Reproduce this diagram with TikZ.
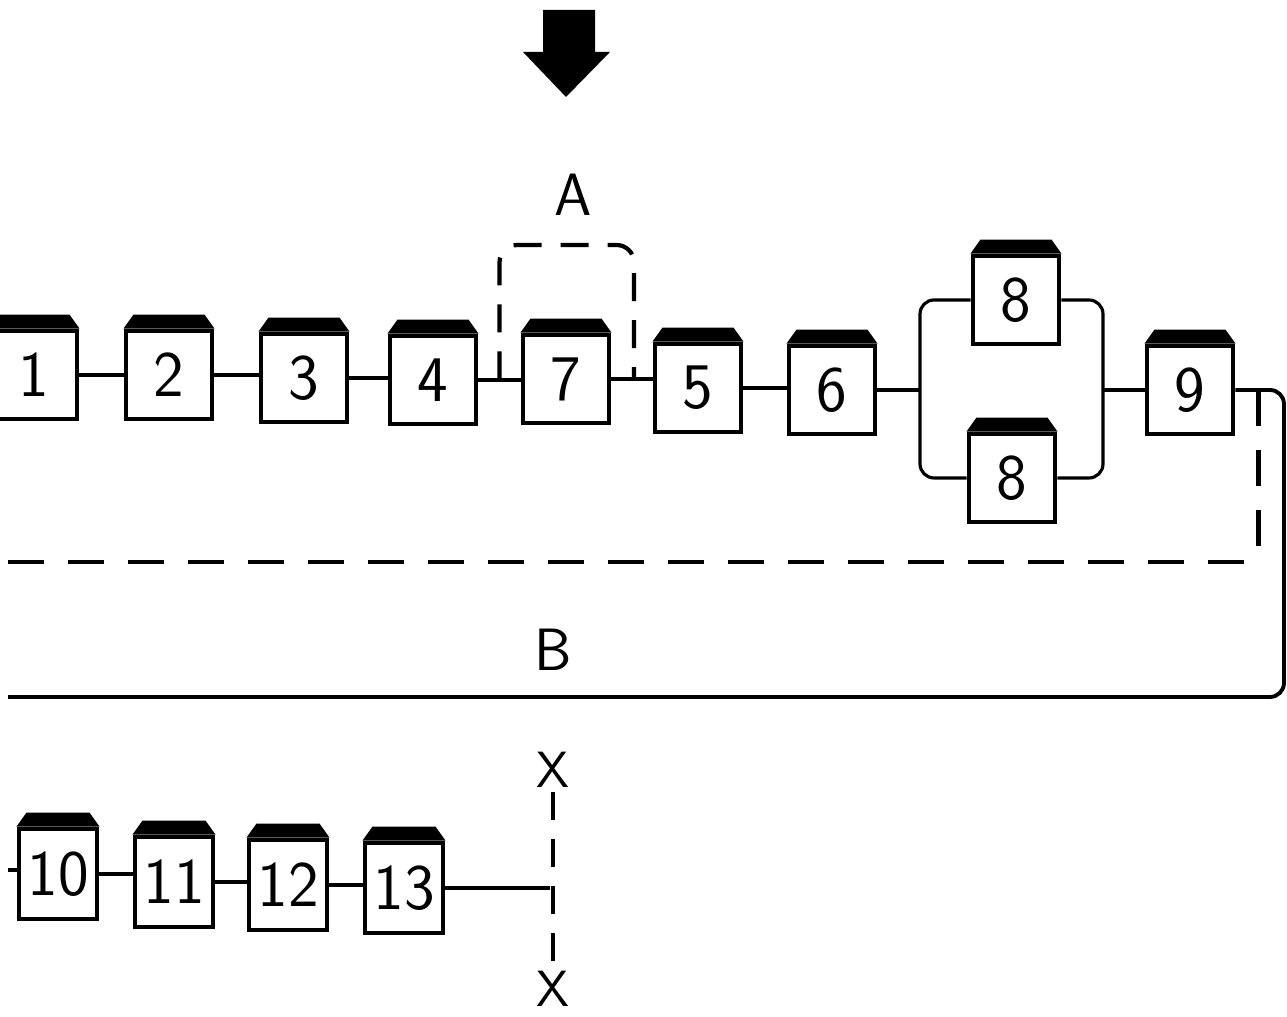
\documentclass[tikz,border=0pt]{standalone}
\usepackage{tikz}
\usetikzlibrary{calc}
\usetikzlibrary{positioning}

\tikzset{
  unit/.style={draw, line width=1.4pt, minimum width=0.86cm, minimum height=0.88cm,
               inner sep=0pt, font=\sffamily\fontsize{18.5}{20}\selectfont},
  smallunit/.style={unit, minimum width=0.78cm, minimum height=0.90cm},
  wire/.style={line width=0.9pt},
  loopline/.style={line width=1.4pt, dash pattern=on 0.36cm off 0.24cm},
  cutline/.style={line width=0.9pt, dash pattern=on 0.28cm off 0.19cm},
  letter/.style={inner sep=1pt, font=\sffamily\fontsize{17}{18}\selectfont}
}

\begin{document}
\begin{tikzpicture}

\useasboundingbox (0,0) rectangle (12.87,10.17);

%---------------------------------------
% Input arrow
%---------------------------------------
\fill (5.43,10.07) -- (5.95,10.07) -- (5.95,9.65) -- (6.10,9.65)
      -- (5.66,9.20) -- (5.23,9.65) -- (5.43,9.65) -- cycle;

%---------------------------------------
% Top line of units
%---------------------------------------
\node[unit] (u1) at (0.34,6.42) {1};
\node[unit] (u2) at (1.69,6.42) {2};
\node[unit] (u3) at (3.04,6.39) {3};
\node[unit] (u4) at (4.33,6.37) {4};
\node[unit] (u7) at (5.66,6.38) {7};
\node[unit] (u5) at (6.98,6.29) {5};
\node[unit] (u6) at (8.32,6.27) {6};
\node[unit] (u8t) at (10.16,7.17) {8};
\node[unit] (u8b) at (10.12,5.39) {8};
\node[unit] (u9) at (11.90,6.27) {9};

% series links
\foreach \a/\b in {u1/u2,u2/u3,u3/u4,u4/u7,u7/u5,u5/u6}
  \draw[wire] (\a.east) -- (\a.east -| \b.west);

% parallel pair of 8
\coordinate (pL) at (9.20,6.27);
\coordinate (pR) at (11.03,6.27);
\draw[wire] (u6) -- (pL);
\draw[wire, rounded corners=4pt] (u8t.west) -| (pL) |- (u8b.west);
\draw[wire, rounded corners=4pt] (u8t.east) -| (pR) |- (u8b.east);
\draw[wire] (pR) -- (u9);

% loop A round unit 7
\coordinate (aL) at ($(u4.east)!0.5!(u7.west)$);
\coordinate (aR) at ($(u7.east)!0.55!(u5.west)$);
\coordinate (aTop) at (0,7.72);
\draw[cutline, line width=1.2pt, rounded corners=5pt]
      (aL) -- (aL |- aTop) -- (aR |- aTop) -- (aR |- u7.east);
\node[letter] (lblA) at (5.73,8.22) {A};

% return lines
\coordinate (bCorner) at (12.84,3.20);
\coordinate (bEnd) at (0.08,3.20);
\draw[wire, line width=1.1pt, rounded corners=4pt]
      (u9) -- (u9 -| bCorner) -- (bCorner) -- (bEnd);
\coordinate (tap) at ($(u9.east)+(0.23,0)$);
\coordinate (dEnd) at (0.08,4.55);
\draw[loopline, rounded corners=4pt] (tap) |- (dEnd);
\node[letter] (lblB) at (5.53,3.67) {B};

%---------------------------------------
% Bottom line of units
%---------------------------------------
\node[smallunit] (u10) at (0.58,1.43) {10};
\node[smallunit] (u11) at (1.74,1.35) {11};
\node[smallunit] (u12) at (2.88,1.32) {12};
\node[smallunit] (u13) at (4.04,1.29) {13};

\coordinate (inL) at (0.08,1.47);
\coordinate (cut) at (5.50,1.29);
\draw[wire] (inL) -- (inL -| u10.west);
\foreach \a/\b in {u10/u11,u11/u12,u12/u13}
  \draw[wire] (\a.east) -- (\a.east -| \b.west);
\draw[wire] (u13) -- (cut);

% cut X--X
\node[letter, font=\sffamily\fontsize{14.5}{16}\selectfont] (xTop) at (5.53,2.47) {X};
\node[letter, font=\sffamily\fontsize{14.5}{16}\selectfont] (xBot) at (5.53,0.28) {X};
\draw[cutline] (xTop) -- (xBot);

%---------------------------------------
% Dark caps on the units
%---------------------------------------
\foreach \u in {u1,u2,u3,u4,u7,u5,u6,u8t,u8b,u9,u10,u11,u12,u13}
  \fill (\u.north west) -- ++(0.10,0.14) -- ($(\u.north east)+(-0.10,0.14)$)
        -- (\u.north east) -- cycle;

\end{tikzpicture}
\end{document}
